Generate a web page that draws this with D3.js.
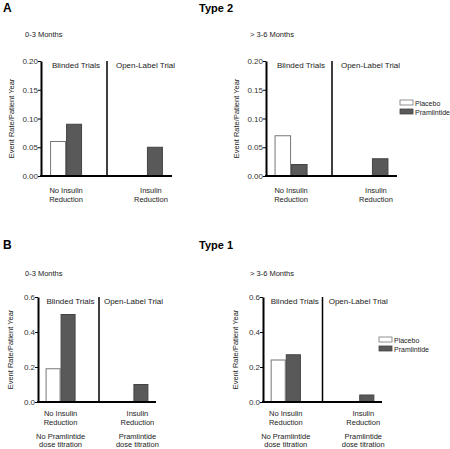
<!DOCTYPE html>
<html><head><meta charset="utf-8">
<script src="https://cdn.jsdelivr.net/npm/d3@7"></script>
<style>
body{margin:0;background:#fff;}
svg{display:block;font-family:"Liberation Sans",Arial,sans-serif;}
</style></head><body>
<svg id="chart" width="450" height="449"></svg>
<script>
const categories = ["No Insulin Reduction", "Insulin Reduction"];
const catLinesA = [["No Insulin","Reduction"],["Insulin","Reduction"]];
const catLinesB = [["No Insulin","Reduction","No Pramlintide","dose titration"],["Insulin","Reduction","Pramlintide","dose titration"]];
const series = ["Placebo", "Pramlintide"];
const type2_0_3_placebo = [0.06, null];
const type2_0_3_pram = [0.09, 0.05];
const type2_3_6_placebo = [0.07, null];
const type2_3_6_pram = [0.02, 0.03];
const type1_0_3_placebo = [0.19, null];
const type1_0_3_pram = [0.50, 0.10];
const type1_3_6_placebo = [0.24, null];
const type1_3_6_pram = [0.27, 0.04];
const ticksType2 = [0, 0.05, 0.10, 0.15, 0.20];
const ticksType1 = [0, 0.2, 0.4, 0.6];

const svg = d3.select("#chart");
const colors = {Placebo:"#ffffff", Pramlintide:"#595959"};
const strokes = {Placebo:"#777", Pramlintide:"#444"};

function panel(o){
  const g = svg.append("g");
  const y = d3.scaleLinear().domain([0,o.ymax]).range([o.bottom,o.top]);
  const x = d3.scalePoint().domain(categories).range([o.left,o.right]).padding(0.31);
  const W = o.right-o.left;
  const bw = W*o.bwFrac;
  const xs = d3.scaleBand().domain(series).range([-bw,bw]);
  // bars
  series.forEach(s=>{
    const vals = s==="Placebo"? o.placebo : o.pram;
    categories.forEach((c,i)=>{
      if(vals[i]==null) return;
      g.append("rect")
        .attr("x", x(c)+xs(s)+0.5)
        .attr("y", y(vals[i]))
        .attr("width", xs.bandwidth()-1)
        .attr("height", y(0)-y(vals[i]))
        .attr("fill", colors[s]).attr("stroke", strokes[s]).attr("stroke-width",1);
    });
  });
  // divider
  const xd = (o.left+o.right)/2 + o.divOff;
  g.append("line").attr("x1",xd).attr("x2",xd).attr("y1",o.top).attr("y2",o.bottom)
    .attr("stroke","#000").attr("stroke-width",1.5);
  // y axis
  const ya = g.append("g").attr("transform",`translate(${o.left},0)`)
    .call(d3.axisLeft(y).tickValues(o.ticks).tickFormat(d3.format(o.fmt)).tickSize(3).tickSizeOuter(0));
  ya.select(".domain").attr("stroke","#000").attr("stroke-width",2);
  ya.selectAll(".tick line").attr("stroke","#000");
  ya.selectAll(".tick text").attr("font-size",8).attr("fill","#333").attr("font-family","Liberation Sans, Arial, sans-serif").attr("x",-3);
  // x axis
  g.append("line").attr("x1",o.left-1).attr("x2",o.right).attr("y1",o.bottom).attr("y2",o.bottom)
    .attr("stroke","#000").attr("stroke-width",2);
  // section headers
  g.append("text").attr("x",(o.left+xd)/2+2).attr("y",o.top+6.5).attr("text-anchor","middle")
    .attr("font-size",8).attr("fill","#222").text("Blinded Trials");
  g.append("text").attr("x",(xd+o.right)/2+6).attr("y",o.top+6.5).attr("text-anchor","middle")
    .attr("font-size",8).attr("fill","#222").text("Open-Label Trial");
  // category labels
  categories.forEach((c,i)=>{
    const lines = o.catLines[i];
    const cx = x(c) + (i===1?4:0);
    lines.forEach((t,j)=>{
      g.append("text").attr("x",cx).attr("y",o.bottom+o.catOff[j]).attr("text-anchor","middle")
        .attr("font-size",7.5).attr("fill","#222").text(t);
    });
  });
  // y label
  const cy = (o.top+o.bottom)/2;
  g.append("text").attr("transform",`translate(${o.ylabX},${cy}) rotate(-90)`).attr("text-anchor","middle")
    .attr("font-size",7.5).attr("fill","#222").text("Event Rate/Patient Year");
  // period title
  g.append("text").attr("x",o.titleX).attr("y",o.titleY).attr("font-size",7.5).attr("fill","#222").text(o.title);
  // legend
  if(o.legend){
    series.forEach((s,i)=>{
      g.append("rect").attr("x",o.legend[0]).attr("y",o.legend[1]+i*9).attr("width",13).attr("height",5)
        .attr("fill",colors[s]).attr("stroke",strokes[s]).attr("stroke-width",0.8);
      g.append("text").attr("x",o.legend[0]+15).attr("y",o.legend[1]+i*9+5.5)
        .attr("font-size",7).attr("fill","#222").text(s);
    });
  }
}

const offA = [17, 26];
const offB = [14, 23, 37, 45];
panel({left:41,right:172,top:61,bottom:176,ymax:0.20,ticks:ticksType2,fmt:".2f",bwFrac:0.122,divOff:0.5,catOff:offA,
  placebo:type2_0_3_placebo,pram:type2_0_3_pram,catLines:catLinesA,ylabX:14,title:"0-3 Months",titleX:25,titleY:37});
panel({left:266,right:397,top:61,bottom:176,ymax:0.20,ticks:ticksType2,fmt:".2f",bwFrac:0.126,divOff:0.5,catOff:offA,
  placebo:type2_3_6_placebo,pram:type2_3_6_pram,catLines:catLinesA,ylabX:239,title:"> 3-6 Months",titleX:250,titleY:37,legend:[400,100]});
panel({left:38,right:156,top:297,bottom:402,ymax:0.6,ticks:ticksType1,fmt:".1f",bwFrac:0.127,divOff:2,catOff:offB,
  placebo:type1_0_3_placebo,pram:type1_0_3_pram,catLines:catLinesB,ylabX:13,title:"0-3 Months",titleX:25,titleY:276});
panel({left:263,right:382,top:297,bottom:402,ymax:0.6,ticks:ticksType1,fmt:".1f",bwFrac:0.127,divOff:0,catOff:offB,
  placebo:type1_3_6_placebo,pram:type1_3_6_pram,catLines:catLinesB,ylabX:238,title:"> 3-6 Months",titleX:250,titleY:276,legend:[379,337]});

// panel letters and titles
svg.append("text").attr("x",3).attr("y",12).attr("font-size",12).attr("font-weight","bold").text("A");
svg.append("text").attr("x",216).attr("y",12).attr("text-anchor","middle").attr("font-size",11).attr("font-weight","bold").text("Type 2");
svg.append("text").attr("x",3).attr("y",249).attr("font-size",12).attr("font-weight","bold").text("B");
svg.append("text").attr("x",216).attr("y",249).attr("text-anchor","middle").attr("font-size",11).attr("font-weight","bold").text("Type 1");
</script>
</body></html>
